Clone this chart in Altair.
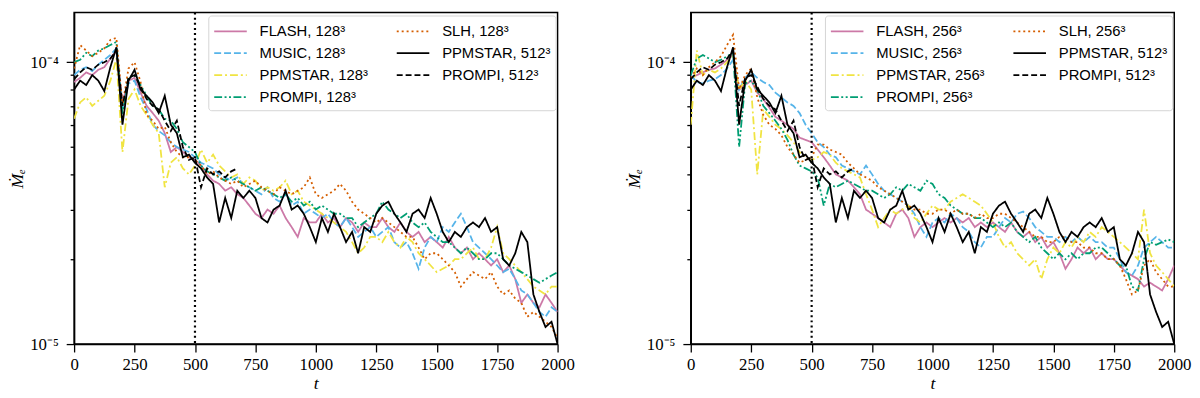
import altair as alt
import pandas as pd

# time grid (every 25 time units) and tick positions
T = list(range(0, 2001, 25))
T_PROMPI512 = T[:28]
X_TICKS = [0, 250, 500, 750, 1000, 1250, 1500, 1750, 2000]
Y_TICKS = [1e-5, 2e-5, 3e-5, 4e-5, 5e-5, 6e-5, 7e-5, 8e-5, 9e-5, 1e-4]
T_MARK = [500]
UNIT = 1e-5  # values below are given in units of 1e-5

# reference runs (same in both panels)
PPMSTAR_512 = [8.0, 8.6, 8.3, 9.0, 8.6, 7.9, 9.6, 11.3, 6.0, 8.6,
               9.4, 8.0, 7.6, 7.2, 6.6, 7.6, 6.0, 5.6, 4.6, 4.7,
               4.4, 4.2, 3.9, 3.7, 2.7, 3.3, 2.8, 3.5, 3.3, 3.5,
               3.3, 2.8, 2.7, 3.0, 3.1, 3.5, 3.0, 3.1, 2.9, 2.6,
               2.3, 2.8, 2.5, 2.9, 2.6, 2.3, 2.5, 2.1, 2.6, 2.5,
               2.9, 3.1, 3.2, 2.9, 2.7, 2.5, 2.9, 3.0, 2.8, 3.3,
               2.9, 2.5, 2.3, 2.5, 2.4, 2.6, 2.7, 2.6, 2.8, 2.5,
               2.6, 2.0, 1.9, 2.1, 2.5, 2.3, 1.5, 1.3, 1.15, 1.2, 1.0]
PROMPI_512 = [8.7, 9.2, 9.6, 9.4, 9.8, 10.0, 10.3, 11.0, 7.0, 8.8,
              9.0, 8.2, 7.4, 7.0, 6.8, 6.2, 5.7, 6.2, 5.0, 4.5,
              4.6, 3.6, 4.2, 4.0, 4.1, 3.9, 4.1, 4.2]

# 128^3 runs
FLASH_128 = [8.5, 8.8, 9.2, 9.0, 9.4, 9.6, 10.3, 11.0, 7.2, 8.6,
             8.8, 7.8, 7.0, 6.6, 6.2, 5.6, 4.8, 5.0, 4.8, 4.6,
             4.5, 4.3, 4.0, 3.8, 3.7, 3.5, 3.6, 3.4, 3.3, 3.1,
             2.9, 2.8, 3.0, 2.9, 3.1, 2.8, 2.6, 2.4, 2.8, 2.7,
             2.7, 2.9, 2.7, 2.8, 2.6, 2.8, 2.7, 2.5, 2.7, 2.6,
             2.6, 2.8, 2.6, 2.5, 2.7, 2.5, 2.4, 2.5, 2.3, 2.4,
             2.3, 2.2, 2.4, 2.2, 2.1, 2.2, 2.0, 2.1, 2.0, 1.9,
             2.0, 1.8, 1.9, 1.7, 1.4, 1.5, 1.4, 1.35, 1.5, 1.4, 1.3]
MUSIC_128 = [9.0, 9.4, 9.6, 9.3, 9.8, 10.2, 10.6, 11.2, 6.8, 8.4,
             8.6, 7.5, 6.8, 6.0, 5.7, 5.5, 5.2, 5.0, 4.9, 4.8,
             4.6, 4.4, 4.3, 4.2, 4.0, 3.9, 3.8, 3.9, 3.7, 3.6,
             3.5, 3.4, 3.6, 3.3, 3.2, 3.4, 3.1, 3.2, 2.9, 3.0,
             2.9, 2.8, 2.9, 2.7, 2.6, 2.8, 2.6, 2.4, 2.5, 2.6,
             2.4, 2.5, 2.6, 2.3, 2.2, 2.3, 2.1, 1.85, 2.2, 2.4,
             2.3, 2.6, 2.5, 2.7, 2.9, 2.6, 2.3, 2.2, 2.1, 2.0,
             1.9, 1.8, 1.85, 1.7, 1.55, 1.5, 1.4, 1.3, 1.25, 1.35, 1.3]
PPMSTAR_128 = [6.3, 7.2, 7.5, 7.0, 7.3, 7.6, 8.6, 10.3, 4.8, 7.4,
               8.0, 7.0, 6.5, 6.0, 5.6, 3.6, 4.4, 4.6, 4.2, 4.0,
               4.3, 4.9, 4.4, 4.7, 4.3, 4.1, 3.9, 4.0, 3.7, 3.9,
               3.8, 3.5, 3.6, 3.5, 3.6, 3.8, 3.4, 3.5, 3.2, 3.1,
               3.0, 2.9, 2.8, 2.7, 2.6, 2.5, 2.3, 2.1, 2.2, 2.4,
               2.4, 2.3, 2.5, 2.3, 2.2, 2.4, 2.3, 2.1, 2.0, 1.9,
               1.8, 1.85, 1.9, 2.0, 2.0, 2.1, 2.2, 2.0, 2.0, 2.2,
               2.6, 2.1, 2.0, 1.9, 1.8, 1.7, 1.6, 1.55, 1.5, 1.6, 1.6]
PROMPI_128 = [10.0, 10.2, 10.8, 10.5, 11.0, 11.2, 11.5, 11.8, 6.5, 8.8,
              9.0, 8.3, 7.6, 7.0, 6.8, 6.3, 6.2, 5.8, 5.2, 5.0,
              4.8, 4.3, 4.1, 4.0, 3.9, 3.8, 3.9, 3.8, 3.7, 3.6,
              3.5, 3.6, 3.5, 3.4, 3.3, 3.4, 3.2, 3.3, 3.1, 3.2,
              3.0, 3.1, 3.0, 2.9, 2.9, 2.8, 2.8, 2.6, 2.7, 2.8,
              2.9, 3.2, 3.0, 2.9, 2.8, 2.9, 2.7, 2.6, 2.7, 2.5,
              2.4, 2.3, 2.3, 2.2, 2.1, 2.2, 2.1, 2.0, 2.0, 2.1,
              2.1, 2.0, 1.9, 1.85, 1.8, 1.75, 1.7, 1.65, 1.7, 1.75, 1.8]
SLH_128 = [9.5, 11.5, 11.0, 10.5, 10.8, 11.2, 12.0, 12.2, 7.0, 9.5,
           10.0, 8.5, 6.5, 6.2, 5.8, 5.9, 5.2, 4.8, 4.6, 4.6,
           4.5, 4.3, 4.0, 4.1, 3.9, 3.8, 3.7, 3.8, 3.6, 3.7,
           3.8, 3.6, 3.5, 3.4, 3.6, 3.5, 3.4, 3.5, 3.6, 3.9,
           3.4, 3.3, 3.4, 3.5, 3.7, 3.5, 3.2, 3.0, 2.9, 2.8,
           2.7, 2.8, 2.7, 2.6, 2.5, 2.4, 2.4, 2.2, 2.0, 2.1,
           2.1, 2.0, 1.9, 1.8, 1.6, 1.7, 1.8, 1.75, 1.7, 1.8,
           1.6, 1.5, 1.55, 1.45, 1.4, 1.25, 1.3, 1.25, 1.2, 1.15, 1.05]

# 256^3 runs
FLASH_256 = [8.8, 9.0, 9.2, 9.4, 9.5, 9.8, 10.2, 10.6, 8.0, 8.3,
             8.6, 7.8, 7.4, 6.9, 6.4, 6.2, 6.0, 5.8, 5.4, 5.3,
             5.2, 4.9, 4.6, 4.3, 4.0, 3.9, 3.8, 3.6, 3.4, 3.0,
             2.9, 2.8, 2.7, 2.6, 2.9, 3.0, 2.8, 2.4, 2.6, 2.7,
             2.6, 2.7, 2.8, 2.7, 2.8, 2.7, 2.8, 2.6, 2.7, 2.6,
             2.7, 2.6, 2.5, 2.7, 2.5, 2.4, 2.5, 2.3, 2.4, 2.2,
             2.3, 2.1, 1.85, 2.0, 2.2, 2.1, 2.2, 2.0, 2.1, 2.0,
             2.0, 1.9, 1.8, 1.75, 1.7, 1.6, 1.65, 1.6, 1.55, 1.7, 1.9]
MUSIC_256 = [9.0, 8.5, 8.4, 8.6, 8.7, 9.0, 9.5, 10.2, 8.0, 8.8,
             9.2, 8.8, 8.5, 8.3, 7.8, 7.5, 7.2, 7.0, 6.6, 6.0,
             5.6, 5.2, 5.0, 4.7, 4.6, 4.3, 4.2, 4.1, 4.0, 4.3,
             4.0, 3.7, 3.5, 3.4, 3.3, 3.2, 3.1, 2.9, 2.6, 2.4,
             2.7, 2.8, 2.7, 2.9, 2.8, 2.6, 2.5, 2.3, 2.2, 2.4,
             2.4, 2.6, 2.8, 2.7, 2.9, 2.95, 2.8, 2.6, 2.5, 2.4,
             2.4, 2.3, 2.4, 2.3, 2.4, 2.3, 2.4, 2.3, 2.3, 2.2,
             2.2, 2.0, 1.8, 1.75, 1.9, 2.2, 2.3, 2.4, 2.3, 2.2, 2.2]
PPMSTAR_256 = [6.0, 11.0, 9.0, 9.4, 9.2, 9.5, 10.0, 10.5, 8.0, 8.6,
               8.0, 4.0, 6.8, 6.4, 6.0, 5.8, 5.5, 5.2, 4.8, 4.6,
               4.5, 4.6, 4.8, 4.7, 4.4, 4.2, 4.1, 4.0, 3.9, 3.4,
               3.0, 2.6, 2.8, 3.0, 2.9, 3.0, 3.1, 2.8, 2.7, 2.9,
               3.1, 3.0, 3.0, 3.2, 3.3, 3.4, 3.3, 3.2, 3.1, 2.9,
               2.7, 2.4, 2.2, 2.3, 2.1, 2.0, 1.9, 2.0, 1.7, 2.0,
               2.2, 2.1, 2.3, 2.2, 2.4, 2.3, 2.5, 2.4, 2.6, 2.5,
               2.4, 2.3, 2.2, 2.1, 2.0, 3.0, 2.1, 1.9, 1.8, 1.7, 1.6]
PROMPI_256 = [9.0, 10.3, 10.6, 10.3, 10.0, 10.2, 10.5, 10.8, 5.0, 8.4,
              8.6, 8.0, 7.0, 6.6, 6.2, 5.8, 5.3, 4.7, 4.3, 4.2,
              4.1, 3.9, 3.1, 3.7, 3.6, 3.7, 3.8, 3.7, 3.6, 3.5,
              3.5, 3.4, 3.3, 3.4, 3.6, 3.5, 3.7, 3.6, 3.5, 3.8,
              3.7, 3.4, 3.3, 3.1, 3.0, 2.9, 2.9, 2.8, 2.8, 2.7,
              2.6, 2.7, 2.6, 2.7, 2.5, 2.4, 2.3, 2.4, 2.2, 2.1,
              2.0, 2.1, 2.0, 2.1, 2.0, 2.1, 2.1, 2.2, 2.2, 2.1,
              2.0, 1.9, 1.9, 1.6, 1.55, 2.0, 2.3, 2.25, 2.3, 2.35, 2.3]
SLH_256 = [8.8, 9.5, 9.0, 9.6, 10.0, 10.5, 11.5, 12.5, 8.0, 9.0,
           9.5, 7.5, 6.5, 6.0, 5.8, 5.5, 5.0, 4.7, 4.4, 4.5,
           4.6, 5.1, 5.1, 4.9, 4.8, 4.7, 4.4, 4.2, 4.0, 3.9,
           3.8, 3.6, 3.5, 3.4, 3.3, 3.2, 3.1, 3.0, 3.0, 2.9,
           2.9, 3.0, 3.0, 2.9, 3.0, 2.9, 2.9, 2.8, 2.9, 2.8,
           2.8, 2.9, 2.9, 2.8, 2.7, 2.6, 2.5, 2.4, 2.4, 2.3,
           2.3, 2.4, 2.4, 2.3, 2.3, 2.2, 2.2, 2.1, 2.1, 2.0,
           2.0, 1.9, 1.7, 1.5, 1.55, 1.9, 2.0, 1.8, 1.7, 1.6, 1.6]

PINK, BLUE, YELLOW, GREEN, ORANGE, BLACK = "#CC79A7", "#56B4E9", "#F0E442", "#009E73", "#D55E00", "#000000"
SOLID, DOTTED, DASHED = [1, 0], [2, 3], [7, 3]
DASHDOT, DASHDOTDOT, BLKDASH = [8, 3, 2, 3], [8, 2.5, 2, 2.5, 2, 2.5], [6, 3]

SERIF = "Liberation Serif"
SANS = "Liberation Sans"
MAJOR_TEST = "datum.value < 1.5e-5 || datum.value > 9.5e-5"
# legend sample: a horizontal line reaching past its (square) symbol slot
LEG_LINE = "M-1,0L2.3,0"


def panel(res, flash, music, ppmstar, prompi, slh):
    names = {
        "FLASH": f"FLASH, {res}³", "MUSIC": f"MUSIC, {res}³",
        "PPMSTAR": f"PPMSTAR, {res}³", "PROMPI": f"PROMPI, {res}³",
        "SLH": f"SLH, {res}³", "PPM512": "PPMSTAR, 512³", "PRO512": "PROMPI, 512³",
    }
    series = [
        (names["FLASH"], T, flash), (names["MUSIC"], T, music),
        (names["PPMSTAR"], T, ppmstar), (names["PROMPI"], T, prompi),
        (names["SLH"], T, slh), (names["PRO512"], T_PROMPI512, PROMPI_512),
        (names["PPM512"], T, PPMSTAR_512),
    ]
    rows = []
    for k, (lab, ts, vs) in enumerate(series):
        for t, v in zip(ts, vs):
            rows.append({"t": t, "mdot": v * UNIT, "run": lab, "k": k})
    df = pd.DataFrame(rows)

    # legend fills columns top-to-bottom (4 rows x 2 columns)
    dom = [names["FLASH"], names["MUSIC"], names["PPMSTAR"], names["PROMPI"],
           names["SLH"], names["PPM512"], names["PRO512"]]
    cols = [PINK, BLUE, YELLOW, GREEN, ORANGE, BLACK, BLACK]
    dashes = [SOLID, DASHED, DASHDOT, DASHDOTDOT, DOTTED, SOLID, BLKDASH]
    widths = [1.8, 1.8, 1.8, 1.8, 2.0, 2.0, 2.0]

    leg = alt.Legend(title=None, orient="none", legendX=136, legendY=3, columns=2,
                     symbolType=LEG_LINE, symbolSize=400, symbolStrokeWidth=2,
                     symbolFillColor="transparent",
                     labelFont=SANS, labelFontSize=15, labelColor="black",
                     labelOffset=25, labelLimit=300, rowPadding=3.2, columnPadding=25,
                     fillColor="white", strokeColor="#d4d4d4", padding=5, cornerRadius=3)

    xs = alt.Scale(domain=[0, 2000], nice=False, zero=False)
    ys = alt.Scale(type="log", domain=[1e-5, 1.5e-4], nice=False)

    lines = alt.Chart(df).mark_line(clip=True).encode(
        x=alt.X("t:Q", scale=xs, axis=alt.Axis(values=X_TICKS, title="t", labelFlush=False,
                                               labelPadding=5, titlePadding=2, format="d")),
        y=alt.Y("mdot:Q", scale=ys, axis=alt.Axis(
            values=Y_TICKS, orient="left", title="Ṁₑ",
            labelExpr="datum.value > 9.5e-5 ? '10⁻⁴' : (datum.value < 1.5e-5 ? '10⁻⁵' : '')",
            tickSize={"condition": {"test": MAJOR_TEST, "value": 8}, "value": 4},
            labelPadding=8, titlePadding=3)),
        color=alt.Color("run:N", scale=alt.Scale(domain=dom, range=cols), legend=leg),
        strokeDash=alt.StrokeDash("run:N", scale=alt.Scale(domain=dom, range=dashes), legend=leg),
        strokeWidth=alt.StrokeWidth("run:N", scale=alt.Scale(domain=dom, range=widths), legend=None),
        order="k:Q",
    )

    vline = alt.Chart(pd.DataFrame({"t": T_MARK})).mark_rule(
        color="black", strokeDash=[2, 3.2], strokeWidth=2.2
    ).encode(x=alt.X("t:Q", scale=xs))

    return alt.layer(lines, vline).properties(width=490, height=336)


left = panel(128, FLASH_128, MUSIC_128, PPMSTAR_128, PROMPI_128, SLH_128)
right = panel(256, FLASH_256, MUSIC_256, PPMSTAR_256, PROMPI_256, SLH_256)

chart = alt.hconcat(left, right, spacing=50).resolve_scale(
    color="independent", strokeDash="independent", strokeWidth="independent"
).resolve_legend(color="independent", strokeDash="independent").properties(
    padding=0
).configure_view(
    stroke="black", strokeWidth=1.5
).configure_axis(
    grid=False, domainColor="black", domainWidth=1.5, tickColor="black", tickWidth=1.3,
    tickSize=8, labelFont=SERIF, labelFontSize=17, labelColor="black",
    titleFont=SERIF, titleFontSize=18, titleFontStyle="italic", titleFontWeight="normal",
    titleColor="black"
)

chart.save("out.html", embed_options={"renderer": "svg", "actions": False})
